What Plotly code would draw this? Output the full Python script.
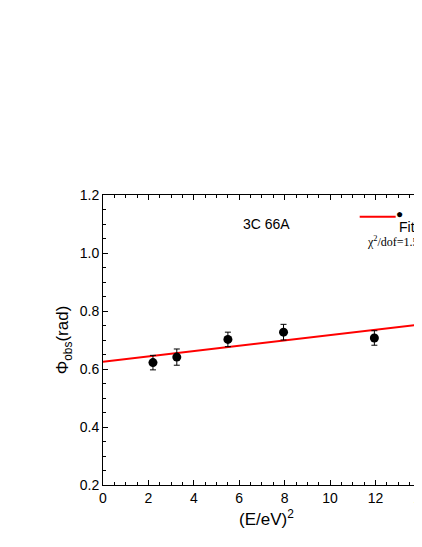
import plotly.graph_objects as go

x_data = [2.2, 3.25, 5.5, 7.95, 11.95]
y_data = [0.622, 0.641, 0.702, 0.727, 0.707]
y_err = [0.025, 0.028, 0.025, 0.027, 0.025]
fit_x = [0, 14.4]
fit_y = [0.625, 0.757]

fig = go.Figure()
fig.add_trace(go.Scatter(x=fit_x, y=fit_y, mode="lines", line=dict(color="red", width=2), showlegend=False))
fig.add_trace(go.Scatter(x=x_data, y=y_data, mode="markers",
                         marker=dict(color="black", size=9),
                         error_y=dict(type="data", array=y_err, color="black", thickness=1, width=3),
                         showlegend=False))
ax = dict(showline=True, linecolor="black", linewidth=1, ticks="inside",
          ticklen=5, tickcolor="black", showgrid=False, zeroline=False,
          tickfont=dict(family="Liberation Sans", size=14, color="black"),
          minor=dict(ticks="inside", ticklen=3, tickcolor="black"))
fig.update_xaxes(**ax, mirror="ticks", range=[0, 14.4], dtick=2,
                 title=dict(text="(E/eV)<sup>2</sup>", font=dict(family="Liberation Sans", size=17, color="black"), standoff=8))
fig.update_yaxes(**ax, mirror=False, range=[0.2, 1.2], dtick=0.2, tickformat=".1f",
                 title=dict(text="Φ<sub>obs</sub>(rad)", font=dict(family="Liberation Sans", size=17, color="black"), standoff=6))
fig.add_annotation(x=0.5, y=0.935, xref="paper", yref="paper", text="3C 66A", showarrow=False,
                   font=dict(family="Liberation Sans", size=14, color="black"), xanchor="center")
fig.add_annotation(x=0.925, y=0.972, xref="paper", yref="paper", text="●", showarrow=False,
                   font=dict(size=12, color="black"))
fig.add_annotation(x=0.96, y=0.972, xref="paper", yref="paper", text="Data", showarrow=False, xanchor="left",
                   font=dict(family="Liberation Sans", size=14, color="black"))
fig.add_shape(type="line", xref="paper", yref="paper", x0=0.785, x1=0.895, y0=0.925, y1=0.925,
              line=dict(color="red", width=2))
fig.add_annotation(x=0.9, y=0.925, xref="paper", yref="paper", text="Fitting", showarrow=False, xanchor="left",
                   font=dict(family="Liberation Sans", size=14, color="black"))
fig.add_annotation(x=0.8, y=0.872, xref="paper", yref="paper", text="χ<sup>2</sup>/dof=1.59", showarrow=False, xanchor="left",
                   font=dict(family="Liberation Serif", size=12, color="black"))
fig.update_layout(width=422, height=547, margin=dict(l=95, r=0, t=187, b=70),
                  plot_bgcolor="white", paper_bgcolor="white")
fig.write_html("out.html")
